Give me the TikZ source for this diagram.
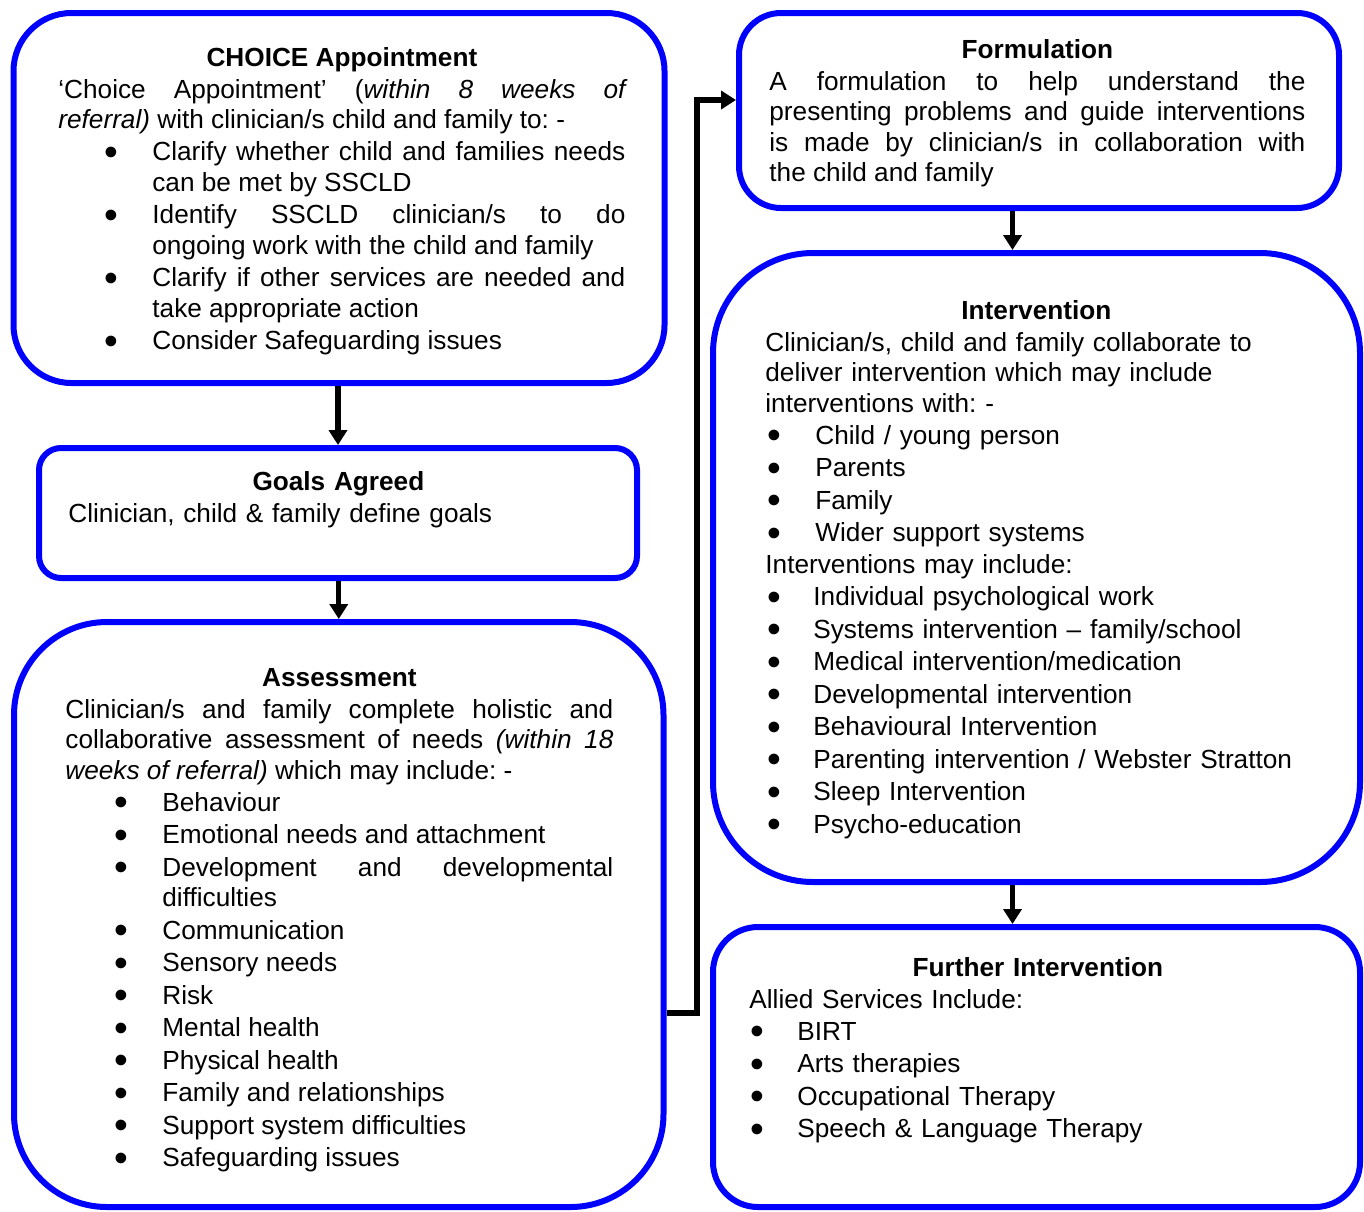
\documentclass[tikz,border=0pt]{standalone}
\usepackage{fontspec}
\setmainfont{Liberation Sans}
\usepackage{graphicx}
\usepackage{enumitem}
\usetikzlibrary{arrows.meta, positioning}

\newcommand{\boxfont}{\fontsize{13.1}{15.25}\selectfont\frenchspacing\setlength{\parskip}{0.75pt}}
\newcommand{\bigdot}{\smash{\raisebox{-2.1pt}{\scalebox{1.5}{\textbullet}}}}
\hyphenpenalty=10000
\setlist[itemize]{label=\bigdot, align=left, labelsep=0pt, labelwidth=!, topsep=0pt, partopsep=0pt, itemsep=0pt, parsep=1pt}

\tikzset{
box/.style={draw=blue, line width=3pt, rectangle, inner sep=0pt}, % the blue rounded frames
boxtext/.style={inner sep=0pt, anchor=north west, font=\boxfont}, % text set inside a frame
flow/.style={-{Triangle[width=9pt,length=7.5pt]}, line width=2.6pt}, % black connectors
}

\begin{document}
\begin{tikzpicture}[x=0.5pt, y=-0.5pt]
\useasboundingbox (0,0) rectangle (1364,1211);

% frames
\node[box, minimum width=325.5pt, minimum height=185pt, rounded corners=29pt] (choice) at (339,198) {};
\node[box, minimum width=299pt, minimum height=65pt, rounded corners=11pt] (goals) at (338,513) {};
\node[box, minimum width=324.75pt, minimum height=292.5pt, rounded corners=46.5pt] (assess) at (338.75,914.5) {};
\node[box, minimum width=300pt, minimum height=97.5pt, rounded corners=21pt] (formul) at (1039,110.5) {};
\node[box, minimum width=323.5pt, minimum height=314.5pt, rounded corners=50pt] (interv) at (1036.5,567.5) {};
\node[box, minimum width=323.5pt, minimum height=140pt, rounded corners=22.5pt] (further) at (1036.5,1067) {};

% texts
\node[boxtext, text width=283.5pt, align=justify] (choicetxt) at (58,44.65) {%
{\centering\bfseries\strut CHOICE Appointment\par}
‘Choice Appointment’ (\textit{within 8 weeks of\linebreak referral)} with clinician/s child and family to:~-
\begin{itemize}[labelindent=23pt, leftmargin=47pt]
\item Clarify whether child and families needs\linebreak can be met by SSCLD
\item Identify SSCLD clinician/s to do\linebreak ongoing work with the child and family
\item Clarify if other services are needed and\linebreak take appropriate action
\item Consider Safeguarding issues
\end{itemize}};

\node[boxtext, text width=270pt, align=left] (goalstxt) at (68,468.65) {%
{\centering\bfseries\strut Goals Agreed\par}
Clinician, child \& family define goals};

\node[boxtext, text width=274pt, align=justify] (assesstxt) at (65,664.65) {%
{\centering\bfseries\strut Assessment\par}
Clinician/s and family complete holistic and\linebreak collaborative assessment of needs \textit{(within 18\linebreak weeks of referral)} which may include:~-
\begin{itemize}[labelindent=24.7pt, leftmargin=48.5pt]
\item Behaviour
\item Emotional needs and attachment
\item Development and developmental\linebreak difficulties
\item Communication
\item Sensory needs
\item Risk
\item Mental health
\item Physical health
\item Family and relationships
\item Support system difficulties
\item Safeguarding issues
\end{itemize}};

\node[boxtext, text width=268pt, align=justify] (formultxt) at (769,36.65) {%
{\centering\bfseries\strut Formulation\par}
A formulation to help understand the\linebreak presenting problems and guide interventions\linebreak is made by clinician/s in collaboration with\linebreak the child and family};

\node[boxtext, text width=271pt, align=left] (intervtxt) at (765,297.65) {%
{\centering\bfseries\strut Intervention\par}
Clinician/s, child and family collaborate to\newline deliver intervention which may include\newline interventions with:~-
\begin{itemize}[labelindent=1.2pt, leftmargin=25pt]
\item Child / young person
\item Parents
\item Family
\item Wider support systems
\end{itemize}
Interventions may include:
\begin{itemize}[labelindent=1.2pt, leftmargin=24pt]
\item Individual psychological work
\item Systems intervention – family/school
\item Medical intervention/medication
\item Developmental intervention
\item Behavioural Intervention
\item Parenting intervention / Webster Stratton
\item Sleep Intervention
\item Psycho-education
\end{itemize}};

\node[boxtext, text width=288.5pt, align=left] (furthertxt) at (749,954.65) {%
{\centering\bfseries\strut Further Intervention\par}
Allied Services Include:
\begin{itemize}[labelindent=0.7pt, leftmargin=24pt]
\item BIRT
\item Arts therapies
\item Occupational Therapy
\item Speech \& Language Therapy
\end{itemize}};

% connectors
\draw[flow] (goals.north |- choice.south) -- (goals.north);
\draw[flow] (assess.north |- goals.south) -- (assess.north);
\draw[flow] ([yshift=-49.25pt]assess.east) -- ++(30.5,0) |- ([yshift=5.25pt]formul.west);
\draw[flow] ([xshift=-12pt]interv.north |- formul.south) -- ([xshift=-12pt]interv.north);
\draw[flow] ([xshift=-12pt]interv.south) -- ([xshift=-12pt]further.north);
\end{tikzpicture}
\end{document}
